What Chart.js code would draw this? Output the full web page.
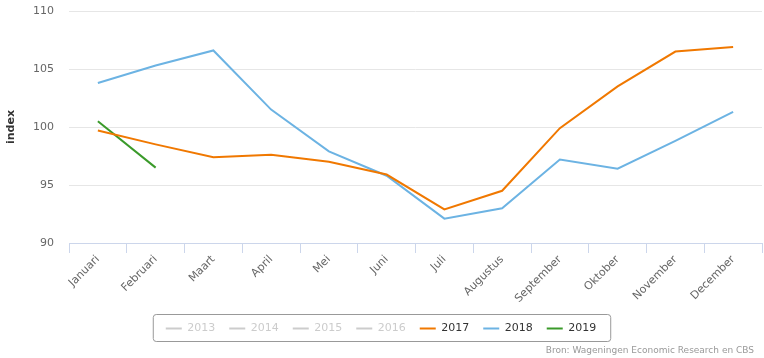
<!DOCTYPE html>
<html>
<head>
<meta charset="utf-8">
<script src="https://cdn.jsdelivr.net/npm/chart.js@4"></script>
<style>
  html, body { margin: 0; padding: 0; background: #fff; }
  #wrap { position: relative; width: 764px; height: 358px; }
</style>
</head>
<body>
<div id="wrap"><canvas id="c"></canvas></div>
<script>
const categories = ['Januari','Februari','Maart','April','Mei','Juni','Juli','Augustus','September','Oktober','November','December'];
const hiddenYears = ['2013','2014','2015','2016'];
const series2017 = [99.7, 98.5, 97.4, 97.6, 97.0, 95.9, 92.9, 94.5, 99.9, 103.5, 106.5, 106.9];
const series2018 = [103.8, 105.3, 106.6, 101.5, 97.9, 95.8, 92.1, 93.0, 97.2, 96.4, 98.8, 101.3];
const series2019 = [100.5, 96.5];
const yTicks = [90, 95, 100, 105, 110];
const creditText = 'Bron: Wageningen Economic Research en CBS';

const FONT = '"DejaVu Sans", Verdana, sans-serif';

const datasets = [];
hiddenYears.forEach(y => datasets.push({ label: y, data: [], borderColor: '#cccccc', backgroundColor: '#cccccc', borderWidth: 2, pointRadius: 0, inactive: true }));
datasets.push({ label: '2017', data: series2017, borderColor: '#f07800', backgroundColor: '#f07800', borderWidth: 2, pointRadius: 0, tension: 0 });
datasets.push({ label: '2018', data: series2018, borderColor: '#6cb3e3', backgroundColor: '#6cb3e3', borderWidth: 2, pointRadius: 0, tension: 0 });
datasets.push({ label: '2019', data: series2019, borderColor: '#3a9a2a', backgroundColor: '#3a9a2a', borderWidth: 2, pointRadius: 0, tension: 0 });

const extras = {
  id: 'extras',
  afterDraw(chart) {
    const ctx = chart.ctx;
    const lg = chart.legend;
    if (lg && lg.legendHitBoxes && lg.legendHitBoxes.length) {
      let l = Infinity, r = -Infinity, t = Infinity, b = -Infinity;
      lg.legendHitBoxes.forEach(h => { l = Math.min(l, h.left); r = Math.max(r, h.left + h.width); t = Math.min(t, h.top); b = Math.max(b, h.top + h.height); });
      const x0 = l - 12.5, x1 = r + 14.5, y0 = t - 8.5, y1 = b + 7.5;
      ctx.save();
      ctx.strokeStyle = '#999999';
      ctx.lineWidth = 1;
      ctx.beginPath();
      if (ctx.roundRect) ctx.roundRect(x0, y0, x1 - x0, y1 - y0, 3); else ctx.rect(x0, y0, x1 - x0, y1 - y0);
      ctx.stroke();
      ctx.restore();
    }
    ctx.save();
    ctx.font = '9px ' + FONT;
    ctx.fillStyle = '#999999';
    ctx.textAlign = 'right';
    ctx.textBaseline = 'alphabetic';
    ctx.fillText(creditText, 754, 353);
    ctx.restore();
  }
};

new Chart(document.getElementById('c'), {
  type: 'line',
  data: { labels: categories, datasets },
  options: {
    responsive: true,
    maintainAspectRatio: false,
    animation: false,
    layout: { padding: { top: 11, right: 2, left: 0, bottom: 14 } },
    plugins: {
      tooltip: { enabled: false },
      legend: {
        position: 'bottom',
        onClick: null,
        labels: {
          usePointStyle: true,
          pointStyle: 'line',
          pointStyleWidth: 16,
          padding: 14,
          font: { family: FONT, size: 11 },
          color: '#333333',
          generateLabels(chart) {
            return chart.data.datasets.map((ds, i) => ({
              text: ds.label,
              fillStyle: ds.borderColor,
              strokeStyle: ds.borderColor,
              lineWidth: 2,
              pointStyle: 'line',
              hidden: false,
              fontColor: ds.inactive ? '#cccccc' : '#333333',
              datasetIndex: i
            }));
          }
        }
      }
    },
    scales: {
      x: {
        type: 'category',
        offset: true,
        grid: { display: true, drawOnChartArea: false, drawTicks: true, tickLength: 10, offset: true, color: '#ccd6eb' },
        border: { display: true, color: '#ccd6eb' },
        ticks: { autoSkip: false, maxRotation: 45, minRotation: 45, color: '#666666', font: { family: FONT, size: 11 }, padding: 0 },
        afterFit(s) { s.height = 66; }
      },
      y: {
        min: 90, max: 110,
        afterBuildTicks(s) { s.ticks = yTicks.map(v => ({ value: v })); },
        grid: { color: '#e6e6e6', drawTicks: false },
        border: { display: false },
        ticks: { color: '#666666', font: { family: FONT, size: 11 }, padding: 15 },
        title: { display: true, text: 'index', color: '#333333', font: { family: FONT, size: 11, weight: 'bold' }, padding: { top: 5, bottom: 0 } },
        afterFit(s) { s.width = 69; s.paddingTop = 7; s.paddingBottom = 7; }
      }
    }
  },
  plugins: [extras]
});
</script>
</body>
</html>
